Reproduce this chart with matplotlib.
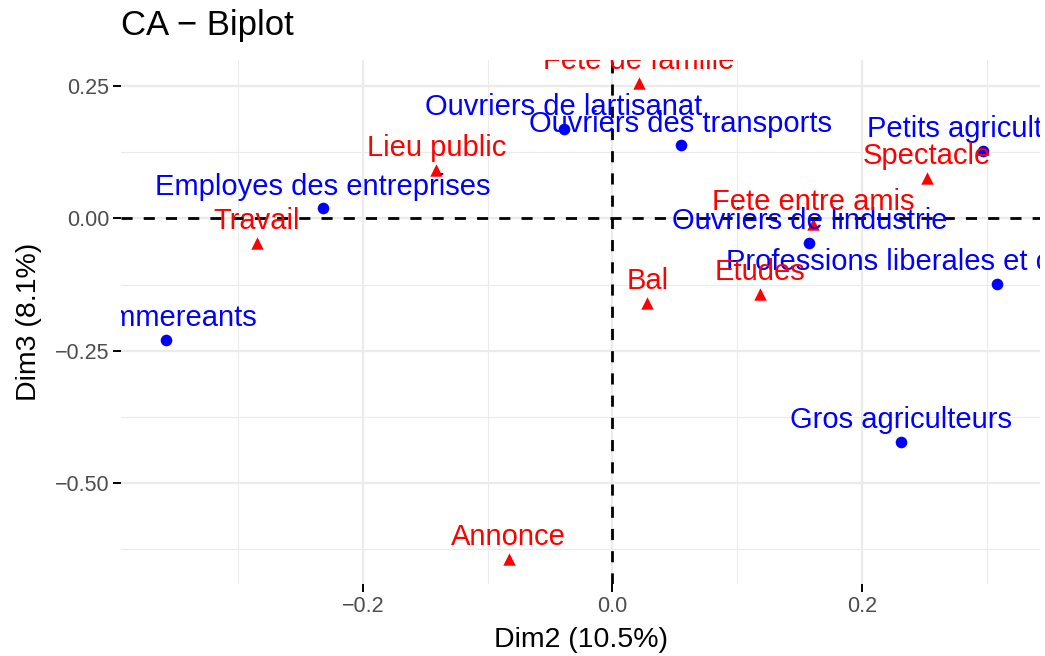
import matplotlib.pyplot as plt
import numpy as np

# row points (blue)
row_names = ['Commereants', 'Employes des entreprises', 'Ouvriers de lartisanat',
             'Ouvriers des transports', 'Petits agriculteurs', 'Ouvriers de lindustrie',
             'Professions liberales et cadres superieurs', 'Gros agriculteurs']
row_x = [-0.358, -0.232, -0.039, 0.055, 0.297, 0.158, 0.308, 0.231]
row_y = [-0.230, 0.019, 0.170, 0.138, 0.128, -0.046, -0.124, -0.422]

# column points (red)
col_names = ['Fete de famille', 'Lieu public', 'Travail', 'Spectacle',
             'Fete entre amis', 'Etudes', 'Bal', 'Annonce']
col_x = [0.021, -0.141, -0.285, 0.252, 0.161, 0.118, 0.028, -0.083]
col_y = [0.257, 0.091, -0.046, 0.077, -0.010, -0.142, -0.160, -0.643]

fig = plt.figure(figsize=(10.45, 6.56), dpi=100)
ax = fig.add_axes([121/1045, 1-584/656, (1040-121)/1045, (584-60)/656])

ax.set_xlim(-0.3938, 0.3428)
ax.set_ylim(-0.691, 0.2996)

# grid, ggplot theme_minimal style
ax.set_xticks([-0.2, 0.0, 0.2])
ax.set_xticks([-0.3, -0.1, 0.1, 0.3], minor=True)
ax.set_yticks([-0.5, -0.25, 0.0, 0.25])
ax.set_yticks([-0.625, -0.375, -0.125, 0.125], minor=True)
ax.set_xticklabels(['\u22120.2', '0.0', '0.2'])
ax.set_yticklabels(['\u22120.50', '\u22120.25', '0.00', '0.25'])
ax.grid(True, which='major', color='#EBEBEB', linewidth=1.6)
ax.grid(True, which='minor', color='#EBEBEB', linewidth=0.8)
ax.set_axisbelow(True)
for s in ax.spines.values():
    s.set_visible(False)
ax.tick_params(which='major', length=5.5, width=1.4, color='black',
               labelsize=15.5, labelcolor='#4D4D4D', pad=3)
ax.tick_params(which='minor', length=0)

ax.axhline(0, color='black', linestyle=(0, (4, 4)), linewidth=2.0, zorder=1)
ax.axvline(0, color='black', linestyle=(0, (4, 4)), linewidth=2.0, zorder=1)

ax.scatter(row_x, row_y, s=70, color='blue', marker='o', zorder=3, linewidths=0)
ax.scatter(col_x, col_y, s=80, color='red', marker='^', zorder=3, linewidths=0)

font = 'Liberation Sans'
for name, x, y in zip(row_names, row_x, row_y):
    ax.annotate(name, (x, y), xytext=(0, 10), textcoords='offset points',
                ha='center', va='baseline', color='blue', fontsize=21,
                family=font, clip_on=True, zorder=4)
for name, x, y in zip(col_names, col_x, col_y):
    ax.annotate(name, (x, y), xytext=(0, 10), textcoords='offset points',
                ha='center', va='baseline', color='red', fontsize=21,
                family=font, clip_on=True, zorder=4)

for lab in ax.get_xticklabels() + ax.get_yticklabels():
    lab.set_family(font)

ax.set_xlabel('Dim2 (10.5%)', fontsize=20.5, family=font, labelpad=7)
ax.set_ylabel('Dim3 (8.1%)', fontsize=20.5, family=font, labelpad=9)
fig.text(121/1045, 1-25/656, 'CA \u2212 Biplot', fontsize=25, family=font,
         ha='left', va='center')

fig.savefig('out.png', dpi=100)
